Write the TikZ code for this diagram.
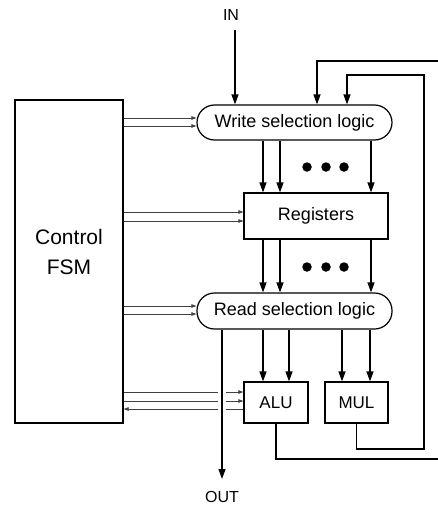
\documentclass[tikz,border=0pt]{standalone}
\usepackage{fontspec}
\setmainfont{Liberation Sans}
\usetikzlibrary{arrows.meta}

\begin{document}
\begin{tikzpicture}[x=1pt, y=-1pt,
    block/.style={draw, line width=1.2pt, inner sep=0pt, font=\fontsize{18}{30}\selectfont},
    pill/.style={block, rounded corners=17.5pt},
    unit/.style={block, font=\fontsize{17}{20}\selectfont},
    bus/.style={line width=1.2pt, -{Triangle[length=10pt,width=7pt]}},
    ctrl/.style={line width=0.7pt, draw=black!75, -{Triangle[length=5pt,width=3.5pt]}},
    dot/.style={circle, fill, inner sep=0pt, minimum size=9.5pt},
    io/.style={font=\fontsize{16}{19}\selectfont}]

    \useasboundingbox (0,0) rectangle (437,506);

    \node[block, minimum width=108, minimum height=323] (fsm) at (69,261.5) {};
    \node[align=center, font=\fontsize{21}{30}\selectfont] (fsmtext) at (69,252) {Control\\FSM};

    \node[pill, minimum width=195, minimum height=35] (wsl) at (294.5,122.5) {Write selection logic};
    \node[block, minimum width=144, minimum height=46] (reg) at (316,216) {Registers};
    \node[pill, minimum width=195, minimum height=36] (rsl) at (294.5,311) {Read selection logic};
    \node[unit, minimum width=64, minimum height=41] (alu) at (276,402.5) {ALU};
    \node[unit, minimum width=63, minimum height=41] (mul) at (356.5,402.5) {MUL};

    \node[io] (in) at (231,15) {IN};
    \node[io] (out) at (222,497) {OUT};
    \coordinate (intail) at (235,30);
    \coordinate (outtip) at (222,479);

    % data paths
    \draw[bus] (intail) -- (intail |- wsl.north);
    \foreach \x in {263,280,371} {
        \draw[bus] (wsl.south -| \x,0) -- (reg.north -| \x,0);
        \draw[bus] (reg.south -| \x,0) -- (rsl.north -| \x,0);
    }
    \foreach \x in {263,289} \draw[bus] (rsl.south -| \x,0) -- (alu.north -| \x,0);
    \foreach \x in {342,370} \draw[bus] (rsl.south -| \x,0) -- (mul.north -| \x,0);
    \draw[bus] (rsl.south -| outtip) -- (outtip);

    \foreach \x [count=\i] in {307,326,344} {
        \node[dot] (wdot\i) at (\x,167) {};
        \node[dot] (rdot\i) at (\x,267) {};
    }

    % results back to the write side
    \coordinate (fba) at (317,61);
    \coordinate (fbm) at (347,75);
    \draw[bus] (alu.south) |- (441,459) |- (fba) -- (fba |- wsl.north);
    \draw[bus] (mul.south) |- (424,449) |- (fbm) -- (fbm |- wsl.north);

    % control lines
    \foreach \y in {118,126} \draw[ctrl] (fsm.east |- 0,\y) -- (wsl.west |- 0,\y);
    \foreach \y in {212,221} \draw[ctrl] (fsm.east |- 0,\y) -- (reg.west |- 0,\y);
    \foreach \y in {306,314} \draw[ctrl] (fsm.east |- 0,\y) -- (rsl.west |- 0,\y);

    \coordinate (gapl) at (218,0);
    \coordinate (gapr) at (226,0);
    \foreach \y in {392,401} {
        \draw[ctrl, -] (fsm.east |- 0,\y) -- (gapl |- 0,\y);
        \draw[ctrl] (gapr |- 0,\y) -- (alu.west |- 0,\y);
    }
    \draw[ctrl, -] (alu.west |- 0,409) -- (gapr |- 0,409);
    \draw[ctrl] (gapl |- 0,409) -- (fsm.east |- 0,409);

\end{tikzpicture}
\end{document}
